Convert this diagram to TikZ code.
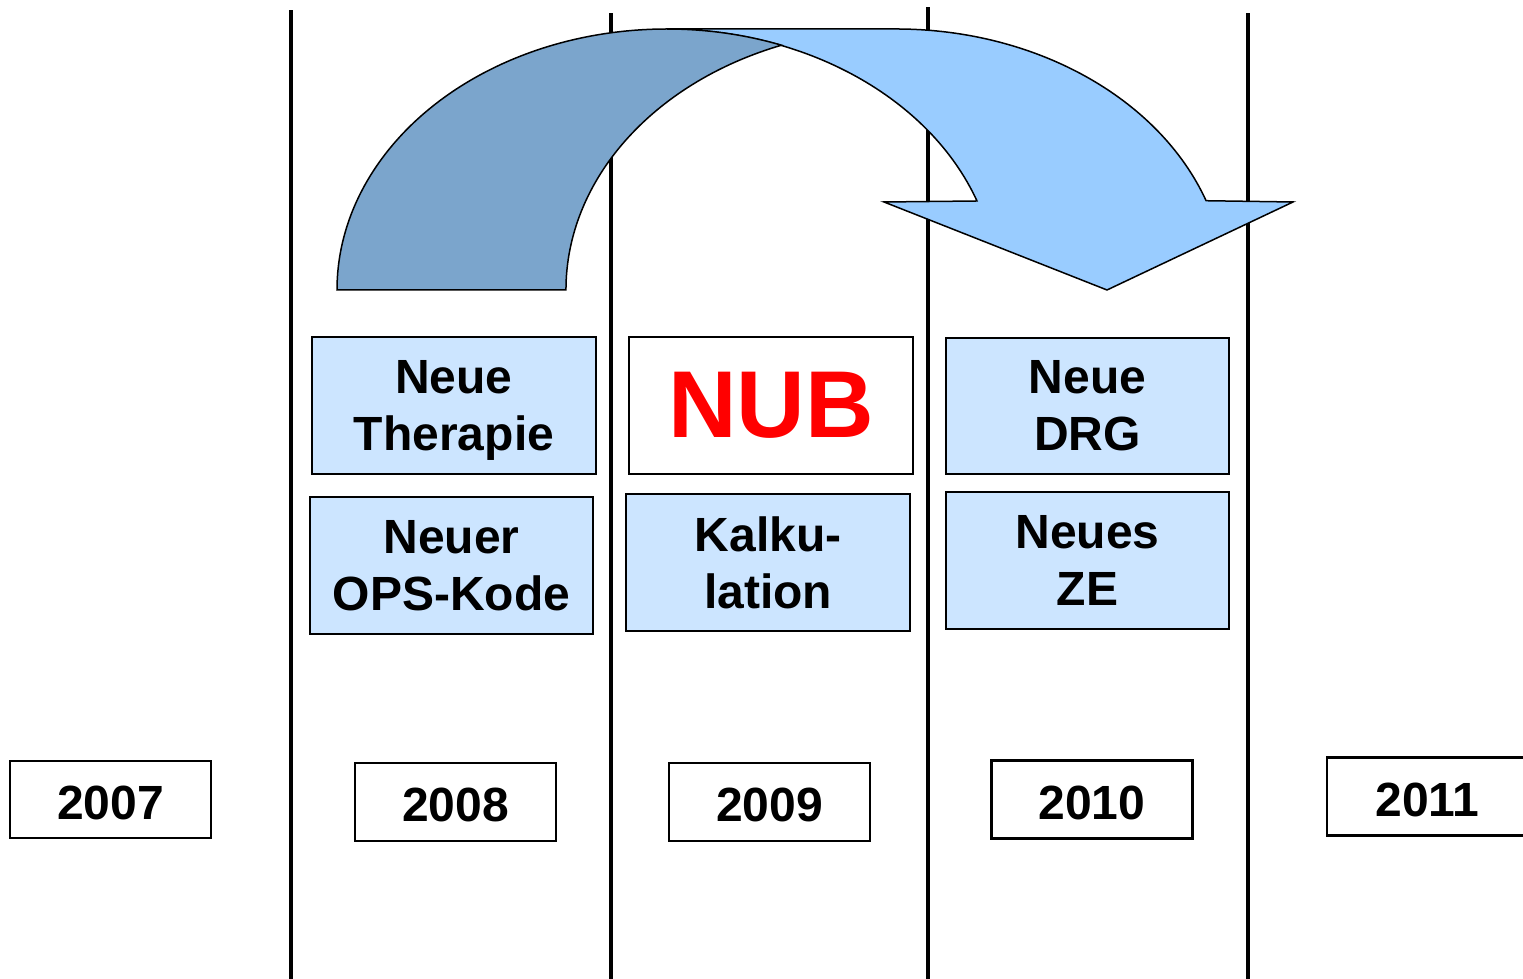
\documentclass[tikz,border=0pt]{standalone}
\usepackage{fontspec}
\setmainfont{Liberation Sans}
\definecolor{arrowlight}{RGB}{153,204,255}
\definecolor{arrowdark}{RGB}{123,165,204}
\definecolor{cellfill}{RGB}{204,229,255}
\definecolor{nubred}{RGB}{255,0,0}
\tikzset{
  yearline/.style={line width=4pt},
  band/.style={draw=black, line width=1.5pt, line join=miter},
  cell/.style={draw=black, line width=2.5pt, fill=cellfill, minimum width=284pt,
    minimum height=137pt, inner sep=0pt, align=center,
    font=\fontsize{48}{57}\selectfont\bfseries},
  nubcell/.style={cell, fill=white, text=nubred,
    font=\fontsize{95}{100}\selectfont\bfseries},
  yearbox/.style={draw=black, line width=2.5pt, fill=white, minimum width=201pt,
    minimum height=78pt, inner sep=0pt, text height=40pt,
    font=\fontsize{48}{56}\selectfont\bfseries},
}
\begin{document}
\begin{tikzpicture}[x=1pt, y=1pt]
\useasboundingbox (0,0) rectangle (1523,979);

% year separators
\draw[yearline] (291,0) -- (291,969);
\draw[yearline] (611,0) -- (611,966);
\draw[yearline] (928,0) -- (928,972);
\draw[yearline] (1248,0) -- (1248,966);

% curved arrow: front band with head
\path[band, fill=arrowlight] (667,950) -- (896,950)
  arc[start angle=90, end angle=20, x radius=330pt, y radius=261pt]
  -- (1293,777) -- (1107,689) -- (884,777) -- (977,778)
  arc[start angle=20, end angle=90, x radius=330pt, y radius=261pt] -- cycle;
% curved arrow: shaded back band
\path[band, fill=arrowdark] (337,689)
  arc[start angle=180, end angle=69.7, x radius=330pt, y radius=261pt]
  arc[start angle=110.3, end angle=180, x radius=330pt, y radius=261pt] -- cycle;

% topics
\node[cell] (therapie) at (454,573.5) {Neue\\Thera\smash{p}ie};
\node[cell, minimum width=283pt] (ops) at (451.5,413.5) {Neuer\\OPS-Kode};
\node[nubcell] (nub) at (771,573.5) {NUB};
\node[cell] (kalk) at (768,416.5) {Kalku-\\lation};
\node[cell, minimum width=283pt, minimum height=136pt] (drg) at (1087.5,573) {Neue\\DRG};
\node[cell, minimum width=283pt] (ze) at (1087.5,418.5) {Neues\\ZE};

% years
\node[yearbox, minimum height=77pt] (y2007) at (110.5,179.5) {2007};
\node[yearbox] (y2008) at (455.5,177) {2008};
\node[yearbox] (y2009) at (769.5,177) {2009};
\node[yearbox] (y2010) at (1092,179.5) {2010};
\node[yearbox] (y2011) at (1427.5,182.5) {2011};
\end{tikzpicture}
\end{document}
